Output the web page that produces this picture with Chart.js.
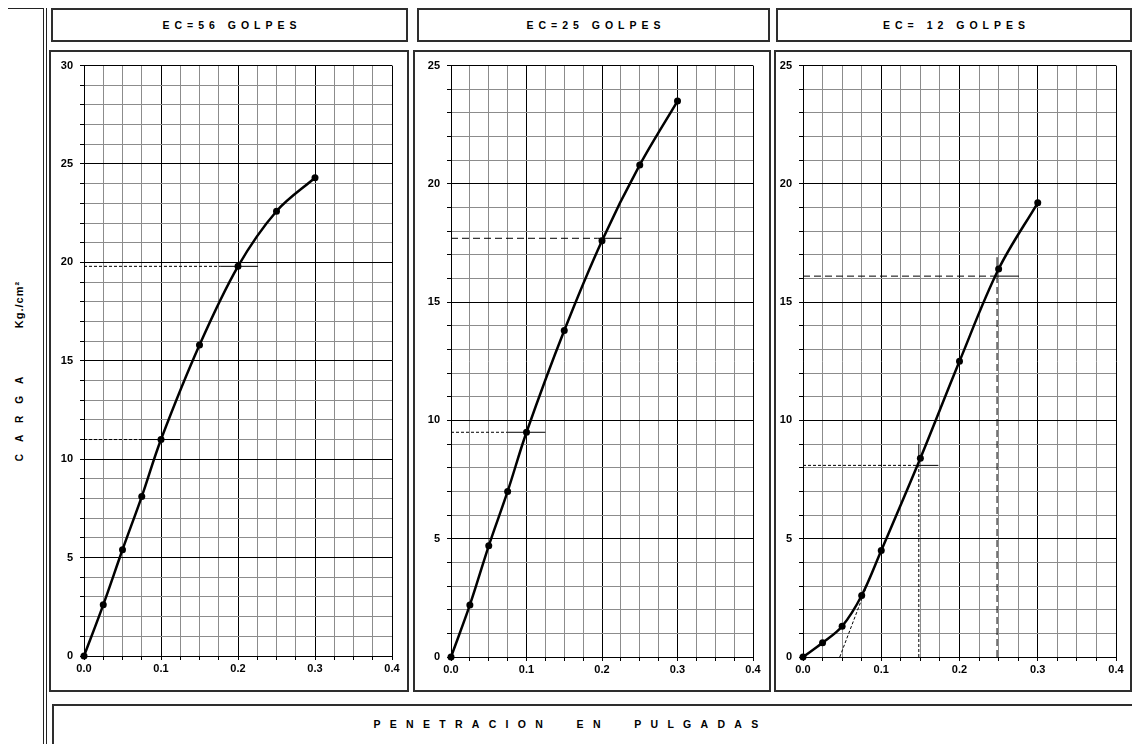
<!DOCTYPE html>
<html><head><meta charset="utf-8">
<script src="https://cdn.jsdelivr.net/npm/chart.js@4.4.0/dist/chart.umd.min.js"></script>
<style>
html,body{margin:0;padding:0;background:#fff;}
body{width:1132px;height:744px;position:relative;overflow:hidden;font-family:"Liberation Sans",Arial,sans-serif;color:#000;}
.box{position:absolute;box-sizing:border-box;border:2px solid #2e2e2e;background:#fff;}
.title{display:flex;align-items:center;justify-content:center;font-weight:bold;font-size:10.5px;letter-spacing:5px;white-space:pre;padding-left:5px;}
.line{position:absolute;background:#222;}
canvas{position:absolute;}
.rot{position:absolute;transform:translate(-50%,-50%) rotate(-90deg);white-space:pre;font-weight:bold;}
</style></head><body>

<div class="line" style="left:8px;top:8px;width:36px;height:1px;"></div>
<div class="line" style="left:43px;top:8px;width:1px;height:736px;"></div>
<div class="line" style="left:46px;top:8px;width:1px;height:736px;"></div>

<div class="box title" style="left:51px;top:8px;width:357px;height:34px;" id="t1"></div>
<div class="box title" style="left:417px;top:8px;width:353px;height:34px;" id="t2"></div>
<div class="box title" style="left:776px;top:8px;width:356px;height:34px;" id="t3"></div>

<div class="box" style="left:49px;top:50px;width:360px;height:642px;"></div>
<div class="box" style="left:413px;top:50px;width:358px;height:642px;"></div>
<div class="box" style="left:774px;top:50px;width:358px;height:642px;"></div>

<div class="box" style="left:52px;top:704px;width:1100px;height:60px;"></div>
<div id="xlabel" style="position:absolute;left:566px;top:724px;transform:translate(-50%,-50%);font-weight:bold;font-size:10.5px;letter-spacing:9.3px;padding-left:9px;white-space:pre;"></div>

<div class="rot" id="ylab1" style="left:19px;top:419px;font-size:10px;letter-spacing:12px;padding-left:12px;"></div>
<div class="rot" id="ylab2" style="left:19px;top:305px;font-size:11px;letter-spacing:1px;padding-left:1px;"></div>

<canvas id="c1" width="356" height="634" style="left:50px;top:52px;width:356px;height:634px;"></canvas>
<canvas id="c2" width="352" height="634" style="left:416px;top:52px;width:352px;height:634px;"></canvas>
<canvas id="c3" width="354" height="634" style="left:777px;top:52px;width:354px;height:634px;"></canvas>

<script>
// ---- data ----
const titles = ["EC=56 GOLPES", "EC=25 GOLPES", "EC= 12 GOLPES"];
const xAxisTitle = "PENETRACION  EN  PULGADAS";
const yAxisTitle = "CARGA";
const yAxisUnit = "Kg./cm²";

const penetration = [0, 0.025, 0.05, 0.075, 0.1, 0.15, 0.2, 0.25, 0.3];
const load56 = [0, 2.6, 5.4, 8.1, 11.0, 15.8, 19.8, 22.6, 24.3];
const load25 = [0, 2.2, 4.7, 7.0, 9.5, 13.8, 17.6, 20.8, 23.5];
const load12 = [0, 0.6, 1.3, 2.6, 4.5, 8.4, 12.5, 16.4, 19.2];

const yMax56 = 30, yMax25 = 25, yMax12 = 25;
const xMax = 0.4;

// guide segments [x0, y0, x1, y1]
const guides56Short = [[0, 11.0, 0.075, 11.0], [0, 19.8, 0.177, 19.8]];
const guides56Long = [];
const guides56Solid = [[0.075, 11.0, 0.125, 11.0], [0.177, 19.8, 0.226, 19.8]];

const guides25Short = [[0, 9.5, 0.075, 9.5]];
const guides25Long = [[0, 17.7, 0.194, 17.7]];
const guides25Solid = [[0.075, 9.5, 0.125, 9.5], [0.194, 17.7, 0.226, 17.7]];

const guides12Short = [[0.047, 0, 0.086, 3.4], [0, 8.1, 0.146, 8.1], [0.148, 0, 0.148, 8.1]];
const guides12Long = [[0, 16.1, 0.24, 16.1], [0.248, 0, 0.248, 16.1]];
const guides12Solid = [[0.146, 8.1, 0.173, 8.1], [0.148, 8.1, 0.148, 9.0], [0.24, 16.1, 0.276, 16.1], [0.248, 16.1, 0.248, 16.9]];

// ---- text ----
document.getElementById('t1').textContent = titles[0];
document.getElementById('t2').textContent = titles[1];
document.getElementById('t3').textContent = titles[2];
document.getElementById('xlabel').textContent = xAxisTitle;
document.getElementById('ylab1').textContent = yAxisTitle;
document.getElementById('ylab2').textContent = yAxisUnit;

Chart.defaults.font.family = '"Liberation Sans", Arial, sans-serif';
Chart.defaults.font.size = 11;
Chart.defaults.font.weight = 'bold';
Chart.defaults.color = '#000';

const isMajorX = v => Math.abs(v * 10 - Math.round(v * 10)) < 1e-6;
const isMajorY = v => Math.abs(v / 5 - Math.round(v / 5)) < 1e-6;

function segDatasets(segs, dash) {
  return segs.map(s => ({
    data: [{x: s[0], y: s[1]}, {x: s[2], y: s[3]}],
    showLine: true, borderColor: '#000', borderWidth: 1, borderDash: dash,
    pointRadius: 0, tension: 0, clip: false
  }));
}

function makeChart(id, loads, yMax, shortG, longG, solidG, yWidth, pad, xHeight) {
  const main = {
    data: penetration.map((x, i) => ({x: x, y: loads[i]})),
    showLine: true, borderColor: '#000', borderWidth: 2.5,
    backgroundColor: '#000', pointRadius: 3.5, pointBorderWidth: 0,
    tension: 0.35, clip: false
  };
  const datasets = [].concat(
    segDatasets(shortG, [3, 2]),
    segDatasets(longG, [7, 4]),
    segDatasets(solidG, []),
    [main]
  );
  new Chart(document.getElementById(id), {
    type: 'scatter',
    data: {datasets: datasets},
    options: {
      responsive: false, animation: false,
      layout: {padding: pad},
      plugins: {legend: {display: false}, tooltip: {enabled: false}},
      scales: {
        x: {
          type: 'linear', min: 0, max: xMax,
          afterFit: s => { s.height = xHeight; },
          grid: {
            color: c => (c.tick && isMajorX(c.tick.value)) ? '#000' : '#8c8c8c',
            tickColor: '#000', tickLength: 4, lineWidth: 1
          },
          border: {color: '#000', width: 1},
          ticks: {
            stepSize: 0.025, autoSkip: false, maxRotation: 0, padding: 2,
            callback: v => isMajorX(v) ? Number(v).toFixed(1) : ''
          }
        },
        y: {
          type: 'linear', min: 0, max: yMax,
          afterFit: s => { s.width = yWidth; },
          grid: {
            color: c => (c.tick && isMajorY(c.tick.value)) ? '#000' : '#8c8c8c',
            tickColor: '#000', tickLength: 4, lineWidth: 1
          },
          border: {color: '#000', width: 1},
          ticks: {
            stepSize: 1, autoSkip: false, padding: 7,
            callback: v => isMajorY(v) ? String(Math.round(v)) : ''
          }
        }
      }
    }
  });
}

makeChart('c1', load56, yMax56, guides56Short, guides56Long, guides56Solid, 34, {top: 12, right: 14, left: 0, bottom: 0}, 30);
makeChart('c2', load25, yMax25, guides25Short, guides25Long, guides25Solid, 35, {top: 12, right: 15, left: 0, bottom: 0}, 29);
makeChart('c3', load12, yMax12, guides12Short, guides12Long, guides12Solid, 26, {top: 11, right: 15, left: 0, bottom: 0}, 29);
</script>
</body></html>
